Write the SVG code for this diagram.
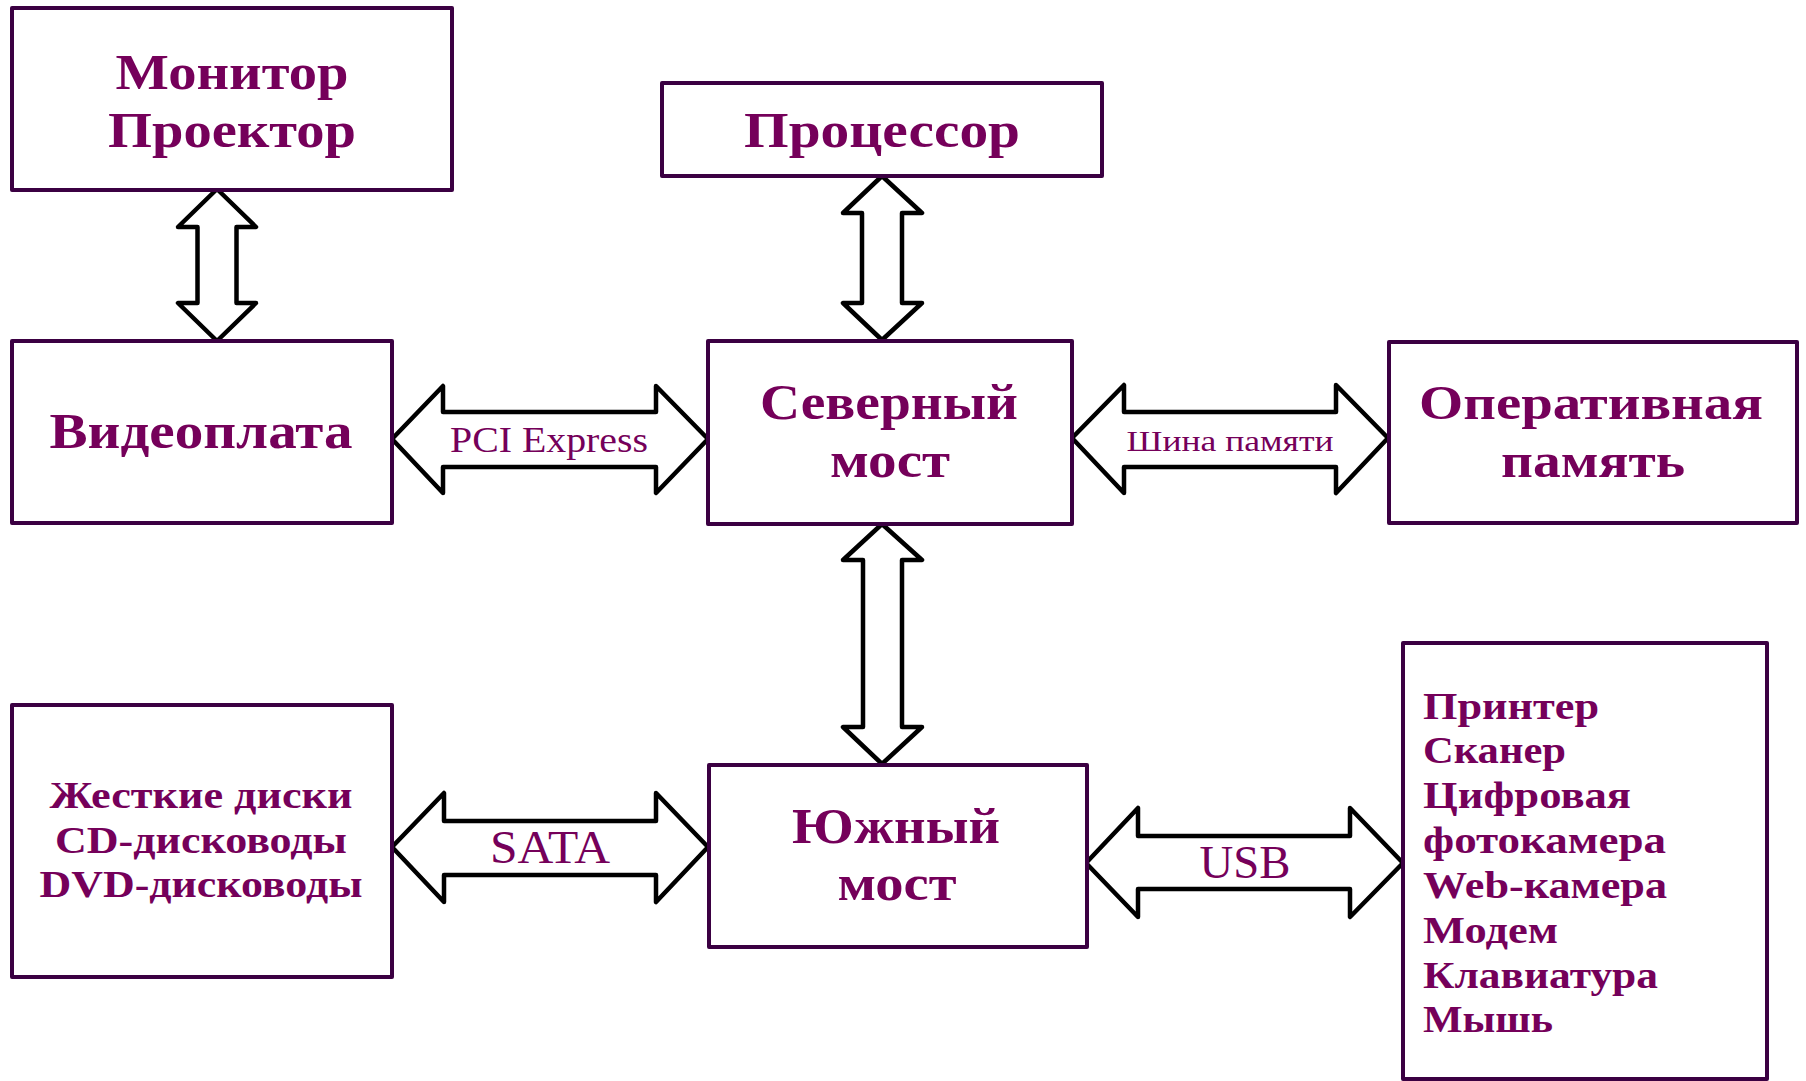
<svg xmlns="http://www.w3.org/2000/svg" width="1806" height="1081" viewBox="0 0 1806 1081">
<style>
.box{fill:#fff;stroke:#3b0042;stroke-width:4;stroke-linejoin:round}
.arr{fill:#fff;stroke:#000;stroke-width:4.5;stroke-linejoin:round}
.t{font-family:"Liberation Serif","Times New Roman",serif;font-weight:bold;fill:#75005a;text-anchor:middle}
.tl{font-family:"Liberation Serif","Times New Roman",serif;font-weight:bold;fill:#75005a}
.lbl{font-family:"Liberation Serif","Times New Roman",serif;fill:#75005a;text-anchor:middle}
</style>
<rect width="1806" height="1081" fill="#fff"/>
<g id="connectors">
<path class="arr" d="M217,189 L256,227 L236.5,227 L236.5,303 L256,303 L217,341 L178,303 L197.5,303 L197.5,227 L178,227 Z"/>
<path class="arr" d="M882,176 L922,213 L902,213 L902,303 L922,303 L882,340 L843,303 L862,303 L862,213 L843,213 Z"/>
<path class="arr" d="M882,524 L922,560 L902,560 L902,727 L922,727 L882,764 L843,727 L863,727 L863,560 L843,560 Z"/>
<path class="arr" d="M392,439 L443,386 L443,412 L656,412 L656,386 L708,439 L656,493 L656,467 L443,467 L443,493 Z"/>
<path class="arr" d="M1072,438 L1124,385 L1124,412 L1336,412 L1336,385 L1388,438 L1336,493 L1336,467 L1124,467 L1124,493 Z"/>
<path class="arr" d="M392,847 L444,793 L444,821 L656,821 L656,793 L708,847 L656,902 L656,875 L444,875 L444,902 Z"/>
<path class="arr" d="M1086,863 L1138,808 L1138,836 L1350,836 L1350,808 L1403,863 L1350,917 L1350,889 L1138,889 L1138,917 Z"/>
<text class="lbl" x="549" y="452" font-size="35" textLength="198" lengthAdjust="spacingAndGlyphs">PCI Express</text>
<text class="lbl" x="1230" y="451" font-size="30" textLength="207" lengthAdjust="spacingAndGlyphs">Шина памяти</text>
<text class="lbl" x="550" y="863" font-size="46" textLength="120" lengthAdjust="spacingAndGlyphs">SATA</text>
<text class="lbl" x="1245" y="878" font-size="46" textLength="91" lengthAdjust="spacingAndGlyphs">USB</text>
</g>
<g id="monitor">
<rect class="box" x="12" y="8" width="440" height="182"/>
<text class="t" x="232" y="89" font-size="51" textLength="233" lengthAdjust="spacingAndGlyphs">Монитор</text>
<text class="t" x="232" y="147" font-size="51" textLength="248" lengthAdjust="spacingAndGlyphs">Проектор</text>
</g>
<g id="processor">
<rect class="box" x="662" y="83" width="440" height="93"/>
<text class="t" x="882" y="147" font-size="51" textLength="276" lengthAdjust="spacingAndGlyphs">Процессор</text>
</g>
<g id="videoplata">
<rect class="box" x="12" y="341" width="380" height="182"/>
<text class="t" x="201" y="448" font-size="50" textLength="303" lengthAdjust="spacingAndGlyphs">Видеоплата</text>
</g>
<g id="northbridge">
<rect class="box" x="708" y="341" width="364" height="183"/>
<text class="t" x="889" y="419" font-size="50" textLength="258" lengthAdjust="spacingAndGlyphs">Северный</text>
<text class="t" x="890" y="477" font-size="50" textLength="120" lengthAdjust="spacingAndGlyphs">мост</text>
</g>
<g id="ram">
<rect class="box" x="1389" y="342" width="408" height="181"/>
<text class="t" x="1591" y="419" font-size="48" textLength="344" lengthAdjust="spacingAndGlyphs">Оперативная</text>
<text class="t" x="1593" y="477" font-size="48" textLength="184" lengthAdjust="spacingAndGlyphs">память</text>
</g>
<g id="disks">
<rect class="box" x="12" y="705" width="380" height="272"/>
<text class="t" x="201" y="808" font-size="38" textLength="303" lengthAdjust="spacingAndGlyphs">Жесткие диски</text>
<text class="t" x="201" y="853" font-size="38" textLength="292" lengthAdjust="spacingAndGlyphs">CD-дисководы</text>
<text class="t" x="201" y="897" font-size="38" textLength="323" lengthAdjust="spacingAndGlyphs">DVD-дисководы</text>
</g>
<g id="southbridge">
<rect class="box" x="709" y="765" width="378" height="182"/>
<text class="t" x="896" y="843" font-size="50" textLength="208" lengthAdjust="spacingAndGlyphs">Южный</text>
<text class="t" x="897" y="900" font-size="50" textLength="119" lengthAdjust="spacingAndGlyphs">мост</text>
</g>
<g id="devices">
<rect class="box" x="1403" y="643" width="364" height="436"/>
<text class="tl" x="1423" y="719" font-size="38" textLength="176" lengthAdjust="spacingAndGlyphs">Принтер</text>
<text class="tl" x="1423" y="763" font-size="38" textLength="143" lengthAdjust="spacingAndGlyphs">Сканер</text>
<text class="tl" x="1423" y="808" font-size="38" textLength="208" lengthAdjust="spacingAndGlyphs">Цифровая</text>
<text class="tl" x="1423" y="853" font-size="38" textLength="243" lengthAdjust="spacingAndGlyphs">фотокамера</text>
<text class="tl" x="1423" y="898" font-size="38" textLength="244" lengthAdjust="spacingAndGlyphs">Web-камера</text>
<text class="tl" x="1423" y="943" font-size="38" textLength="135" lengthAdjust="spacingAndGlyphs">Модем</text>
<text class="tl" x="1423" y="988" font-size="38" textLength="235" lengthAdjust="spacingAndGlyphs">Клавиатура</text>
<text class="tl" x="1423" y="1032" font-size="38" textLength="130" lengthAdjust="spacingAndGlyphs">Мышь</text>
</g>
</svg>
